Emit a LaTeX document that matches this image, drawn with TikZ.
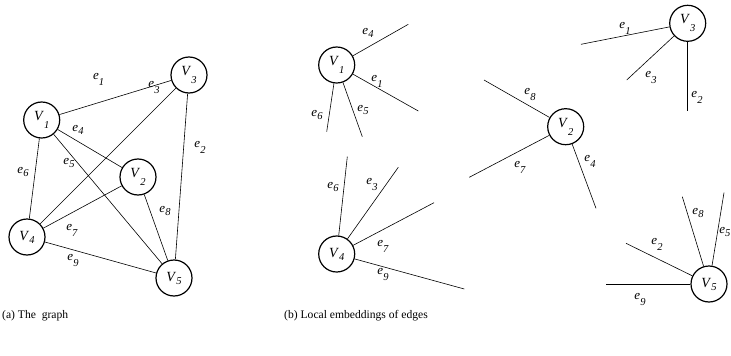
\documentclass[tikz,border=0pt]{standalone}
\usepackage{fontspec}
\setmainfont{Liberation Serif}
\newcommand\lbl[3]{\textit{#1}\raisebox{#3}{\textit{\fontsize{10.5}{10.5}\selectfont #2}}}
\begin{document}
\begin{tikzpicture}[x=1pt,y=-1pt,
  vert/.style={circle, draw, line width=1.2pt, minimum size=36pt, inner sep=0pt, font=\fontsize{14}{14}\selectfont},
  elab/.style={font=\fontsize{13}{13}\selectfont, inner sep=0pt},
  edg/.style={line width=0.6pt},
  captext/.style={font=\fontsize{11.6}{12}\selectfont, anchor=west, inner sep=0pt}]
\useasboundingbox (0,0) rectangle (731,356);
% ---------- (a) the graph ----------
\node[vert] (a1) at (41.7,120) {\lbl{V}{1}{-8pt}};
\node[vert] (a3) at (189,75) {\lbl{V}{3}{-8pt}};
\node[vert] (a2) at (138,177) {\lbl{V}{2}{-8pt}};
\node[vert] (a4) at (27,237) {\lbl{V}{4}{-3pt}};
\node[vert] (a5) at (174,278) {\lbl{V}{5}{-3pt}};
\draw[edg] (a1) -- (a3);
\draw[edg] (a1) -- (a2);
\draw[edg] (a1) -- (a5);
\draw[edg] (a1) -- (a4);
\draw[edg] (a3) -- (a4);
\draw[edg] (a3) -- (a5);
\draw[edg] (a2) -- (a4);
\draw[edg] (a2) -- (a5);
\draw[edg] (a4) -- (a5);
\node[elab] (la1) at (98.7,79) {\lbl{e}{1}{-6pt}};
\node[elab] (la3) at (154,87) {\lbl{e}{3}{-6pt}};
\node[elab] (la2) at (200,147) {\lbl{e}{2}{-6pt}};
\node[elab] (la4) at (78,130) {\lbl{e}{4}{-2.5pt}};
\node[elab] (la5) at (69,163) {\lbl{e}{5}{-2.5pt}};
\node[elab] (la6) at (23,172) {\lbl{e}{6}{-2.5pt}};
\node[elab] (la8) at (165,211) {\lbl{e}{8}{-2.5pt}};
\node[elab] (la7) at (72,230) {\lbl{e}{7}{-6pt}};
\node[elab] (la9) at (73,260) {\lbl{e}{9}{-6pt}};
% ---------- (b) local embeddings ----------
% V1
\node[vert] (b1) at (336.7,65) {\lbl{V}{1}{-8pt}};
\coordinate (b1e4) at (408.3,24.3);
\coordinate (b1e1) at (418.3,111);
\coordinate (b1e6) at (326.7,131.7);
\coordinate (b1e5) at (362.3,136.7);
\draw[edg] (b1) -- (b1e4);
\draw[edg] (b1) -- (b1e1);
\draw[edg] (b1) -- (b1e6);
\draw[edg] (b1) -- (b1e5);
\node[elab] (lb1e4) at (368,33) {\lbl{e}{4}{-2.5pt}};
\node[elab] (lb1e1) at (377,81) {\lbl{e}{1}{-6pt}};
\node[elab] (lb1e6) at (317,115) {\lbl{e}{6}{-2.5pt}};
\node[elab] (lb1e5) at (363,110) {\lbl{e}{5}{-2.5pt}};
% V3
\node[vert] (b3) at (687.7,23.3) {\lbl{V}{3}{-8pt}};
\coordinate (b3e1) at (581,44.3);
\coordinate (b3e3) at (626.7,80);
\coordinate (b3e2) at (687.7,110.7);
\draw[edg] (b3) -- (b3e1);
\draw[edg] (b3) -- (b3e3);
\draw[edg] (b3) -- (b3e2);
\node[elab] (lb3e1) at (625,28) {\lbl{e}{1}{-6pt}};
\node[elab] (lb3e3) at (651,77) {\lbl{e}{3}{-6pt}};
\node[elab] (lb3e2) at (697,97) {\lbl{e}{2}{-6pt}};
% V2
\node[vert] (b2) at (565.7,126.7) {\lbl{V}{2}{-8pt}};
\coordinate (b2e8) at (484,80);
\coordinate (b2e7) at (469.3,177.3);
\coordinate (b2e4) at (596,208.3);
\draw[edg] (b2) -- (b2e8);
\draw[edg] (b2) -- (b2e7);
\draw[edg] (b2) -- (b2e4);
\node[elab] (lb2e8) at (530,94) {\lbl{e}{8}{-6pt}};
\node[elab] (lb2e7) at (520,167) {\lbl{e}{7}{-6pt}};
\node[elab] (lb2e4) at (590,161) {\lbl{e}{4}{-6pt}};
% V4
\node[vert] (b4) at (336.7,254) {\lbl{V}{4}{-3pt}};
\coordinate (b4e6) at (347.3,156.7);
\coordinate (b4e3) at (398.3,167.3);
\coordinate (b4e7) at (434,202.7);
\coordinate (b4e9) at (464.3,289);
\draw[edg] (b4) -- (b4e6);
\draw[edg] (b4) -- (b4e3);
\draw[edg] (b4) -- (b4e7);
\draw[edg] (b4) -- (b4e9);
\node[elab] (lb4e6) at (333,187) {\lbl{e}{6}{-2.5pt}};
\node[elab] (lb4e3) at (372,184) {\lbl{e}{3}{-6pt}};
\node[elab] (lb4e7) at (383,246) {\lbl{e}{7}{-6pt}};
\node[elab] (lb4e9) at (383,274) {\lbl{e}{9}{-6pt}};
% V5
\node[vert] (b5) at (709,284) {\lbl{V}{5}{-3pt}};
\coordinate (b5e8) at (682.3,196.7);
\coordinate (b5e5) at (724,192.7);
\coordinate (b5e2) at (626,243.3);
\coordinate (b5e9) at (606,284);
\draw[edg] (b5) -- (b5e8);
\draw[edg] (b5) -- (b5e5);
\draw[edg] (b5) -- (b5e2);
\draw[edg] (b5) -- (b5e9);
\node[elab] (lb5e8) at (698,213) {\lbl{e}{8}{-2.5pt}};
\node[elab, anchor=east] (lb5e5) at (730.5,232) {\lbl{e}{5}{-2.5pt}};
\node[elab] (lb5e2) at (657,244) {\lbl{e}{2}{-6pt}};
\node[elab] (lb5e9) at (640,299) {\lbl{e}{9}{-6pt}};
% ---------- captions ----------
\node[captext] (capa) at (2,316) {(a) The~ graph};
\node[captext] (capb) at (284,316) {(b) Local embeddings of edges};
\end{tikzpicture}
\end{document}
